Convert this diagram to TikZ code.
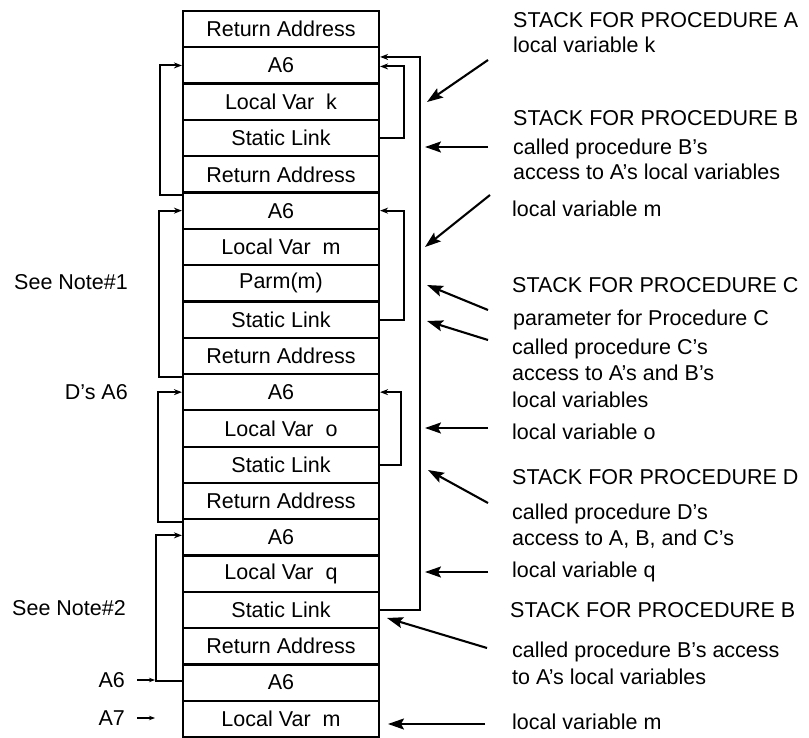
\documentclass[tikz,border=0pt]{standalone}
\usepackage{fontspec}
\setmainfont{Liberation Sans}
\usetikzlibrary{arrows.meta}
\begin{document}
\begin{tikzpicture}[x=1pt,y=-1pt,
  every node/.style={font=\fontsize{21.5}{25}\selectfont},
  cell/.style={draw, line width=2.2pt, minimum width=196pt, minimum height=36.3pt, inner sep=0pt},
  conn/.style={line width=2.1pt, -{Stealth[length=8pt,width=6pt]}},
  note/.style={line width=2.1pt, -{Stealth[length=16pt,width=11pt,inset=3pt]}},
  lbl/.style={anchor=base west, inner sep=0pt},
  llbl/.style={anchor=base east, inner sep=0pt},
  tick/.style={line width=1.4pt, -{Stealth[length=6pt,width=4.5pt]}}]
\useasboundingbox (0,0) rectangle (809,738);

% stack cells
\foreach \t [count=\i from 0] in {Return Address, A6, Local Var~~k, Static Link, Return Address,
  A6, Local Var~~m, Parm(m), Static Link, Return Address,
  A6, Local Var~~o, Static Link, Return Address,
  A6, Local Var~~q, Static Link, Return Address,
  A6, Local Var~~m}
  \node[cell] (r\i) at (281, {11+36.3*(\i+0.5)}) {\t};

% left dynamic links
\draw[conn] ([yshift=-4pt]r5.north west) -- ++(-22,0) |- (r1.west);
\draw[conn] ([yshift=-4pt]r10.north west) -- ++(-23,0) |- (r5.west);
\draw[conn] ([yshift=-4pt]r14.north west) -- ++(-24,0) |- (r10.west);
\draw[conn] ([yshift=2pt]r18.west) -- ++(-26,0) coordinate (c4) |- ([yshift=2pt]r14.west);

% right static links
\draw[conn] (r16.east) -- ++(40,0) |- ([yshift=8.5pt]r1.east);
\draw[conn] (r3.east) -- ++(24,0) |- ([yshift=-1pt]r1.east);
\draw[conn] (r8.east) -- ++(24,0) |- (r5.east);
\draw[conn] (r12.east) -- ++(21,0) |- (r10.east);

% left labels
\node[llbl] (n1) at (128,289.5) {See Note\#1};
\node[llbl] (da6) at (128,399.5) {D's A6};
\node[llbl] (n2) at (126,615.5) {See Note\#2};
\node[llbl] (la6) at (125,687) {A6};
\node[llbl] (la7) at (125,725.5) {A7};
\coordinate (a6tip) at (155,680);
\coordinate (a7tip) at (155,718);
\draw[tick] (137,680) -- (a6tip);
\draw[tick] (137,718) -- (a7tip);

% annotation arrows
\coordinate (t1) at (488,60);  \coordinate (h1) at (427,102);
\coordinate (t2) at (488,147); \coordinate (h2) at (425,147);
\coordinate (t3) at (490,195); \coordinate (h3) at (425,247);
\coordinate (t4) at (488,310); \coordinate (h4) at (427,285);
\coordinate (t5) at (488,340); \coordinate (h5) at (427,321);
\coordinate (t6) at (488,428); \coordinate (h6) at (425,428);
\coordinate (t7) at (488,503); \coordinate (h7) at (428,470);
\coordinate (t8) at (488,572); \coordinate (h8) at (425,572);
\coordinate (t9) at (487,648); \coordinate (h9) at (387,618);
\coordinate (t10) at (485,724); \coordinate (h10) at (388,724);
\foreach \k in {1,...,10} \draw[note] (t\k) -- (h\k);

% right texts
\node[lbl] at (513,27.5) {STACK FOR PROCEDURE A};
\node[lbl] at (513,52.5) {local variable k};
\node[lbl] at (513,125.5) {STACK FOR PROCEDURE B};
\node[lbl] at (513,154.5) {called procedure B's};
\node[lbl] at (513,179.5) {access to A's local variables};
\node[lbl] at (512,216.5) {local variable m};
\node[lbl] at (512,292.5) {STACK FOR PROCEDURE C};
\node[lbl] at (513,325.5) {parameter for Procedure C};
\node[lbl] at (512,354.5) {called procedure C's};
\node[lbl] at (512,380.5) {access to A's and B's};
\node[lbl] at (512,407.5) {local variables};
\node[lbl] at (512,439.5) {local variable o};
\node[lbl] at (512,484.5) {STACK FOR PROCEDURE D};
\node[lbl] at (512,519.5) {called procedure D's};
\node[lbl] at (512,545.5) {access to A, B, and C's};
\node[lbl] at (512,577.5) {local variable q};
\node[lbl] at (510,617.5) {STACK FOR PROCEDURE B};
\node[lbl] at (512,657.5) {called procedure B's access};
\node[lbl] at (512,684.5) {to A's local variables};
\node[lbl] at (512,729.5) {local variable m};
\end{tikzpicture}
\end{document}
